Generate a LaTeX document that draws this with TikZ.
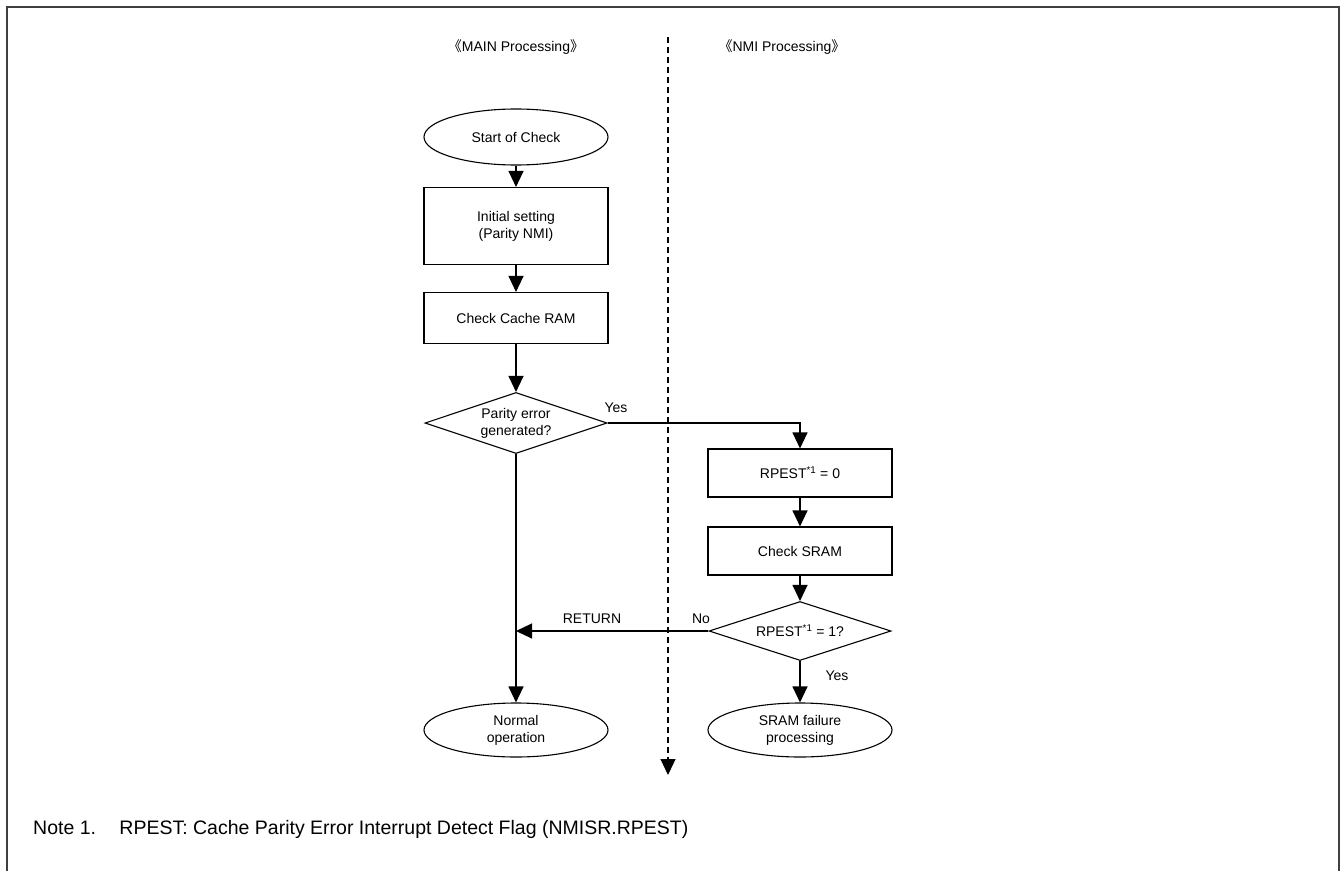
\documentclass[tikz,border=0pt]{standalone}
\usepackage{fontspec}
\setmainfont{Liberation Sans}
\newfontfamily\cjkfont{Noto Sans CJK SC}
\usetikzlibrary{shapes.geometric,arrows.meta}
\begin{document}
\begin{tikzpicture}[x=1pt,y=-1pt,
  every node/.style={font=\fontsize{14}{17}\selectfont},
  flow/.style={line width=1.1pt},
  arr/.style={flow,-{Triangle[width=15pt,length=16pt]}},
  proc/.style={draw,line width=1.1pt,rectangle,minimum width=184pt,inner sep=0pt,align=center},
  term/.style={draw,line width=1.1pt,ellipse,minimum width=184pt,inner sep=0pt,align=center},
  dec/.style={draw,line width=1.1pt,diamond,aspect=3,inner sep=0pt,minimum width=182pt,minimum height=61pt,align=center},
  lbl/.style={inner sep=0pt}]
\useasboundingbox (0,0) rectangle (1341,870);
% frame
\draw[line width=2pt,black!75] (7,872) -- (7,7) -- (1339,7) -- (1339,872);
% headers
\node[lbl] (hmain) at (516,47) {{\cjkfont 《}MAIN Processing{\cjkfont 》}};
\node[lbl] (hnmi) at (782,47) {{\cjkfont 《}NMI Processing{\cjkfont 》}};
% dashed divider
\coordinate (dtop) at (668,37);
\coordinate (dbot) at (668,775);
\draw[flow,dashed,dash pattern=on 6pt off 4pt,-{Triangle[width=15pt,length=16pt]}] (dtop) -- (dbot);
% nodes
\node[term,minimum height=56pt] (start) at (516,137) {Start of Check};
\node[proc,minimum height=77pt] (init) at (516,226) {Initial setting\\(Parity NMI)};
\node[proc,minimum height=51pt] (cache) at (516,318) {Check Cache RAM};
\node[dec] (d1) at (516,423) {Parity error\\generated?};
\node[proc,minimum height=48pt] (rp0) at (800,473) {RPEST\textsuperscript{*1} = 0};
\node[proc,minimum height=48pt] (sram) at (800,551) {Check SRAM};
\node[dec,minimum height=59pt] (d2) at (800,631) {RPEST\textsuperscript{*1} = 1?};
\node[term,minimum height=54pt] (normal) at (516,730) {Normal\\operation};
\node[term,minimum height=54pt] (fail) at (800,730) {SRAM failure\\processing};
% connectors
\draw[arr] (start) -- (init);
\draw[arr] (init) -- (cache);
\draw[arr] (cache) -- (d1);
\draw[arr] (d1.east) -| (rp0.north);
\draw[arr] (rp0) -- (sram);
\draw[arr] (sram) -- (d2);
\draw[arr] (d2) -- (fail);
\draw[arr] (d1.south) -- (normal.north);
\coordinate (ret) at (516,631);
\draw[arr] (d2.west) -- (ret);
% labels
\node[lbl] (yes1) at (616,408) {Yes};
\node[lbl] (no) at (701,619) {No};
\node[lbl] (retl) at (592,619) {RETURN};
\node[lbl] (yes2) at (837,676) {Yes};
\node[lbl,anchor=west,font=\fontsize{19.5}{23}\selectfont] (note) at (33,829) {Note 1.\hspace{1.2em}RPEST: Cache Parity Error Interrupt Detect Flag (NMISR.RPEST)};
\end{tikzpicture}
\end{document}
